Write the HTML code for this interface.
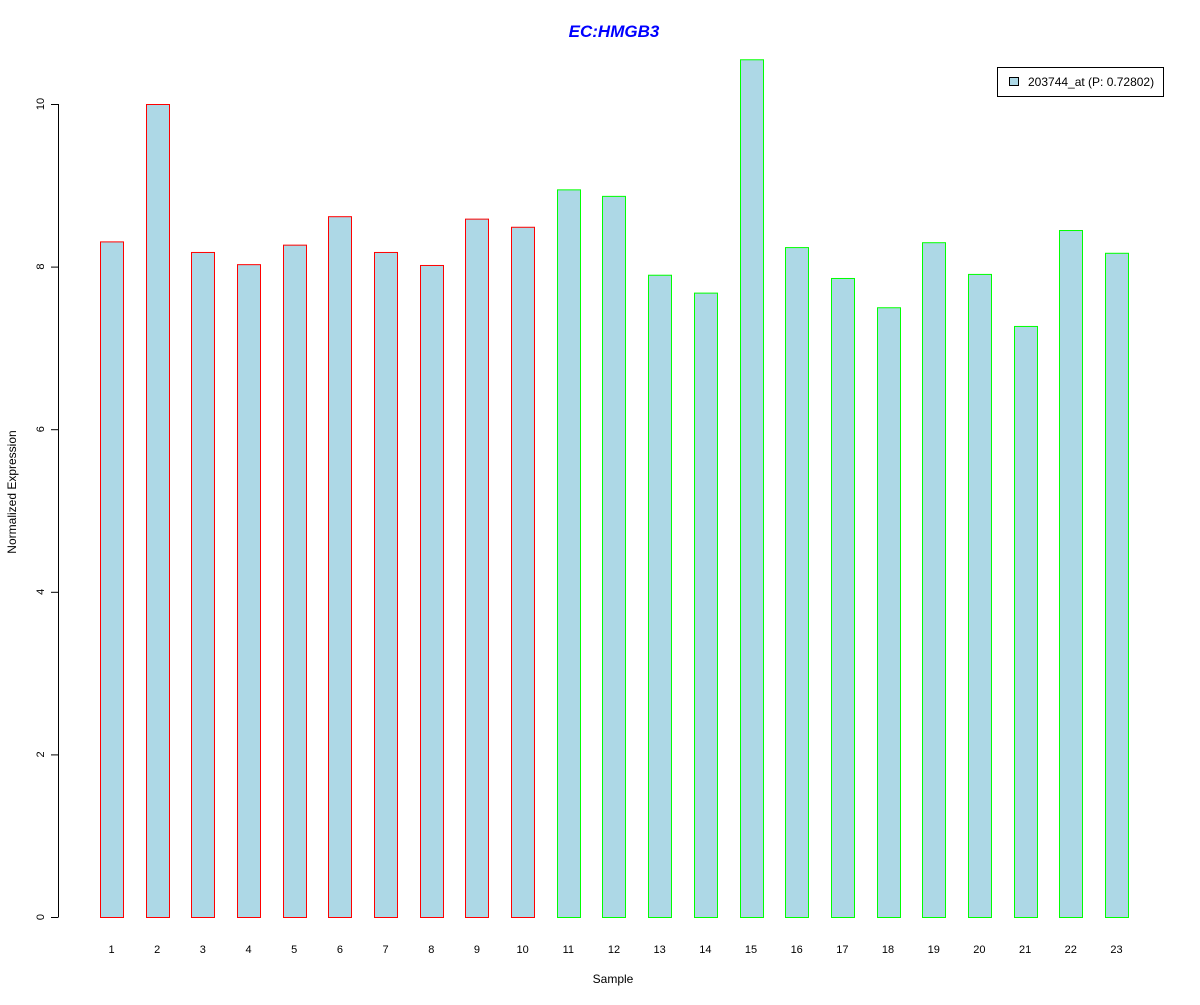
<!DOCTYPE html>
<html><head><meta charset="utf-8"><style>
body{margin:0;background:#fff;}
svg text{font-family:"Liberation Sans",Arial,sans-serif;}
</style></head><body>
<svg id="chart" width="1200" height="1000" xmlns="http://www.w3.org/2000/svg">
<rect width="1200" height="1000" fill="#fff"/>
<text x="614" y="37" text-anchor="middle" font-size="17" font-weight="bold" font-style="italic" fill="#0000ff">EC:HMGB3</text>
<text x="613" y="983" text-anchor="middle" font-size="12">Sample</text>
<text transform="translate(16,492) rotate(-90)" text-anchor="middle" font-size="12">Normalized Expression</text>
<g id="bars"></g><g id="yaxis"></g><g id="xlabels"></g>
<g>
<rect x="997.5" y="67.5" width="166" height="29" fill="#fff" stroke="#000"/>
<rect x="1009.5" y="77.5" width="9" height="8" fill="#add8e6" stroke="#000"/>
<text x="1028" y="86" font-size="12">203744_at (P: 0.72802)</text>
</g>
</svg>
<script>
const categories=["1","2","3","4","5","6","7","8","9","10","11","12","13","14","15","16","17","18","19","20","21","22","23"];
const values=[8.31,10.0,8.18,8.03,8.27,8.62,8.18,8.02,8.59,8.49,8.95,8.87,7.90,7.68,10.55,8.24,7.86,7.50,8.30,7.91,7.27,8.45,8.17];
const groups=["r","r","r","r","r","r","r","r","r","r","g","g","g","g","g","g","g","g","g","g","g","g","g"];
const yTicks=[0,2,4,6,8,10];
const NS="http://www.w3.org/2000/svg";
const y=v=>917-v*81.3;
const xc=i=>111.5+i*45.68;
const bars=document.getElementById('bars'),ya=document.getElementById('yaxis'),xl=document.getElementById('xlabels');
function mk(t,a){const e=document.createElementNS(NS,t);for(const k in a)e.setAttribute(k,a[k]);return e;}
values.forEach((v,i)=>{
const r=mk('rect',{x:Math.round(xc(i)-11.5)+0.5,y:y(v)+0.5,width:23,height:917-y(v),fill:'#add8e6',stroke:groups[i]==='r'?'#ff0000':'#00ff00'});


bars.appendChild(r);
const t=mk('text',{x:xc(i),y:953,'text-anchor':'middle','font-size':11});
t.textContent=categories[i];


xl.appendChild(t);
});
const al=mk('line',{x1:58.5,x2:58.5,y1:y(10),y2:y(0),stroke:'#000'});


ya.appendChild(al);
yTicks.forEach(v=>{
const l=mk('line',{x1:51,x2:58.5,y1:y(v)+0.5,y2:y(v)+0.5,stroke:'#000'});


ya.appendChild(l);
const t=mk('text',{transform:`translate(44,${y(v)}) rotate(-90)`,'text-anchor':'middle','font-size':11});
t.textContent=v;


ya.appendChild(t);
});
</script>
</body></html>
